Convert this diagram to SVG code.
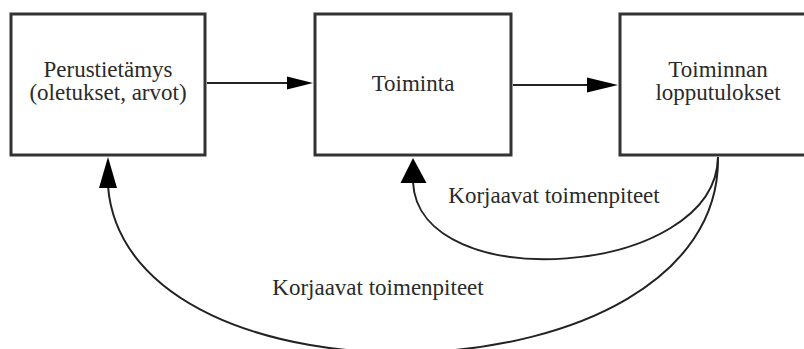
<svg xmlns="http://www.w3.org/2000/svg" width="804" height="349" viewBox="0 0 804 349">
  <style>
    .box { fill: #ffffff; stroke: #333333; stroke-width: 3; }
    .lbl { font-family: 'Liberation Serif', 'Times New Roman', serif; font-size: 23px; fill: #2a2a2a; text-anchor: middle; }
    .line { fill: none; stroke: #222222; stroke-width: 2; }
    .head { fill: #000000; stroke: none; }
  </style>
  <rect width="804" height="349" fill="#ffffff"/>

  <g id="connectors">
    <!-- straight flow arrows -->
    <line class="line" x1="207" y1="83" x2="290" y2="83"/>
    <polygon class="head" points="313,83 287,76.5 287,89.5"/>
    <line class="line" x1="513" y1="85" x2="590" y2="85"/>
    <polygon class="head" points="618,85 587,77.5 587,92.5"/>

    <!-- short feedback loop: results back to action -->
    <path class="line" d="M718,157 C716,278 418,298 413,182"/>
    <polygon class="head" points="413,158 400.5,183 426.5,183"/>

    <!-- long feedback loop: results back to basic knowledge -->
    <path class="line" d="M718,157 C722,405 126,420 108,186"/>
    <polygon class="head" points="108,157 99,188 117,188"/>
  </g>

  <g id="node-perustietamys">
    <rect class="box" x="11" y="14" width="194" height="141"/>
    <text class="lbl" x="108" y="77">Perustietämys</text>
    <text class="lbl" x="108" y="100">(oletukset, arvot)</text>
  </g>

  <g id="node-toiminta">
    <rect class="box" x="315" y="14" width="196" height="141"/>
    <text class="lbl" x="413" y="91">Toiminta</text>
  </g>

  <g id="node-lopputulokset">
    <rect class="box" x="620" y="14" width="196" height="141"/>
    <text class="lbl" x="718" y="77">Toiminnan</text>
    <text class="lbl" x="718" y="100">lopputulokset</text>
  </g>

  <g id="labels">
    <text class="lbl" x="554" y="203">Korjaavat toimenpiteet</text>
    <text class="lbl" x="378" y="295">Korjaavat toimenpiteet</text>
  </g>
</svg>
